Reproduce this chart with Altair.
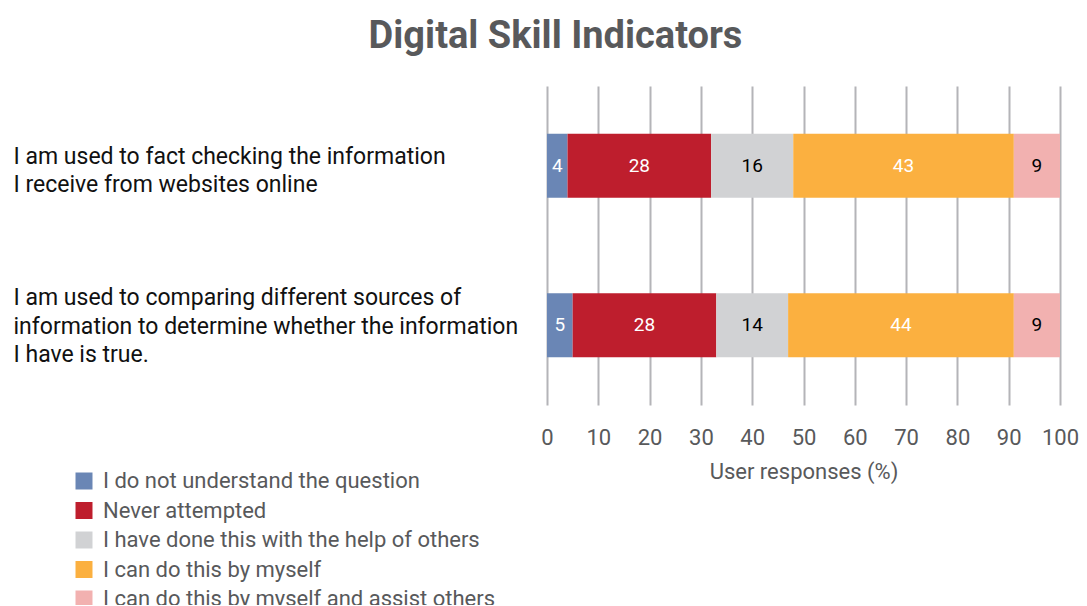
import altair as alt
import pandas as pd

questions = [
    "I am used to fact checking the information|I receive from websites online",
    "I am used to comparing different sources of|information to determine whether the information|I have is true.",
]
categories = [
    "I do not understand the question",
    "Never attempted",
    "I have done this with the help of others",
    "I can do this by myself",
    "I can do this by myself and assist others",
]
colors = ["#6a86b5", "#be1e2d", "#d1d2d4", "#fbb040", "#f2b1b0"]
text_colors = ["white", "white", "black", "white", "black"]
q1_values = [4, 28, 16, 43, 9]
q2_values = [5, 28, 14, 44, 9]
x_ticks = [0, 10, 20, 30, 40, 50, 60, 70, 80, 90, 100]

rows = []
for q, vals in zip(questions, [q1_values, q2_values]):
    for i, (c, v) in enumerate(zip(categories, vals)):
        rows.append({"question": q, "category": c, "value": v, "order": i, "tcolor": text_colors[i]})
df = pd.DataFrame(rows)

FONT = "Roboto"
GRAY = "#58595b"

base = alt.Chart(df).transform_stack(
    stack="value", groupby=["question"], as_=["x0", "x1"], sort=[alt.SortField("order")]
).transform_calculate(mid="(datum.x0 + datum.x1) / 2")

y_enc = alt.Y(
    "question:N",
    sort=questions,
    title=None,
    axis=alt.Axis(
        labelExpr="split(datum.value, '|')",
        labelAlign="left",
        labelPadding=534,
        labelLimit=600,
        labelFontSize=23,
        labelFont=FONT,
        labelColor="#111111",
        labelLineHeight=28.5,
        labelOffset={"condition": {"test": "indexof(datum.value, 'comparing') >= 0", "value": -27}, "value": -9},
        domain=False,
        ticks=False,
        grid=False,
    ),
    scale=alt.Scale(paddingInner=0, paddingOuter=0),
)

bars = base.mark_bar(size=64).encode(
    x=alt.X(
        "x0:Q",
        scale=alt.Scale(domain=[0, 100]),
        title="User responses (%)",
        axis=alt.Axis(
            values=x_ticks,
            domain=False,
            ticks=False,
            grid=True,
            gridColor="#b4b4b8",
            gridWidth=2,
            labelFontSize=22,
            labelFont=FONT,
            labelColor=GRAY,
            labelPadding=22,
            labelOverlap=False,
            labelFlush=False,
            titleFontSize=22,
            titleFont=FONT,
            titleColor=GRAY,
            titleFontWeight="normal",
            titlePadding=13,
        ),
    ),
    x2="x1:Q",
    y=y_enc,
    color=alt.Color(
        "category:N",
        sort=categories,
        scale=alt.Scale(domain=categories, range=colors),
        legend=alt.Legend(
            title=None,
            orient="none",
            legendX=-474,
            legendY=384,
            direction="vertical",
            symbolType="square",
            symbolSize=289,
            symbolStrokeWidth=0,
            symbolOpacity=1,
            labelFontSize=22,
            labelFont=FONT,
            labelColor=GRAY,
            labelLimit=600,
            rowPadding=7.5,
            labelOffset=8,
        ),
    ),
    order=alt.Order("order:Q"),
)

labels = base.mark_text(fontSize=19, font=FONT).encode(
    x="mid:Q",
    y=alt.Y("question:N", sort=questions),
    text="value:Q",
    color=alt.Color("tcolor:N", scale=None),
)

chart = (
    alt.layer(bars, labels)
    .properties(
        width=513,
        height=319,
        autosize=alt.AutoSizeParams(type="none"),
        padding={"top": 78, "left": 539, "right": 19, "bottom": 200},
        title=alt.TitleParams(
            "Digital Skill Indicators",
            fontSize=38,
            font=FONT,
            fontWeight="bold",
            color=GRAY,
            anchor="middle",
            offset=30,
            dx=-248,
        ),
    )
    .configure_view(stroke=None)
)

chart.save("out.html", embed_options={"renderer": "svg", "actions": False})
